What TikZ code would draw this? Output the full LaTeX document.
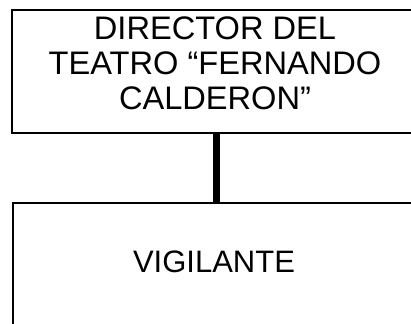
\documentclass[tikz,border=0pt]{standalone}
\usepackage{fontspec}
\setmainfont{Liberation Sans}
\begin{document}
\begin{tikzpicture}[x=1pt,y=-1pt,
  boxst/.style={draw=black,line width=1.3pt,rectangle,inner sep=0pt},
  lbl/.style={font=\fontsize{31}{35}\selectfont,align=center,inner sep=0pt,anchor=base},
  link/.style={line width=6.5pt,draw=black}]
\useasboundingbox (0,0) rectangle (411,323);
\clip (0,0) rectangle (411,323);
\node[boxst,minimum width=406pt,minimum height=123pt] (top) at (215,71.5) {};
\node[boxst,minimum width=405pt,minimum height=140pt] (bot) at (215.5,273) {};
\node[lbl,font=\fontsize{32.6}{35}\selectfont] (toptext) at (215,110) {DIRECTOR DEL\\TEATRO “FERNANDO\\CALDERON”};
\node[lbl] (bottext) at (214,272) {VIGILANTE};
\coordinate (cx) at (216.5,0);
\draw[link] (top.south -| cx) -- (bot.north -| cx);
\end{tikzpicture}
\end{document}
